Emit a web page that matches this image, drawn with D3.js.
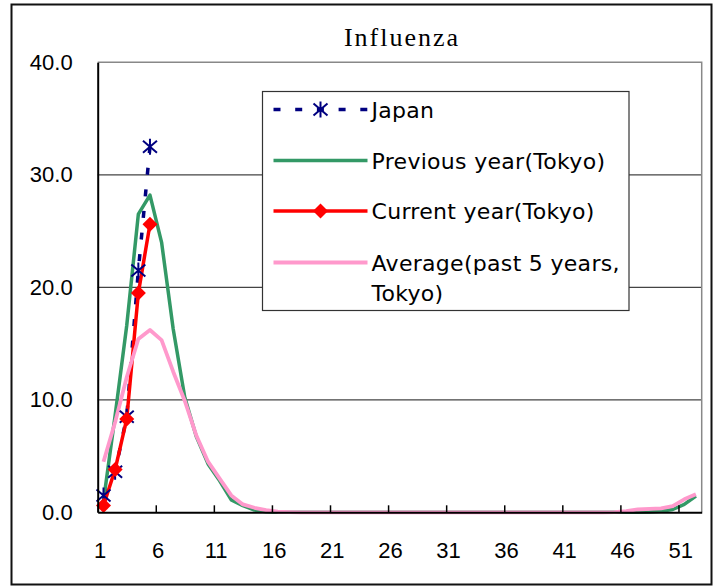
<!DOCTYPE html>
<html>
<head>
<meta charset="utf-8">
<script src="https://cdn.jsdelivr.net/npm/d3@7/dist/d3.min.js"></script>
<style>
    body { margin: 0; background: #fff; }
    .tick text { fill: #000; }
</style>
</head>
<body>
<div id="chart"></div>
<script>
// weekly reports per sentinel, influenza
var weeks = d3.range(1, 53);
var xTickLabels = [1, 6, 11, 16, 21, 26, 31, 36, 41, 46, 51];
var yTicks = [0, 10, 20, 30, 40];

var japan = [1.5, 3.6, 8.5, 21.5, 32.5];
var currentYear = [0.6, 3.8, 8.3, 19.5, 25.6];
var previousYear = [
    1.0, 8.6, 16.6, 26.5, 28.2, 24.0, 16.3, 10.2, 6.7, 4.3,
    2.8, 1.1, 0.6, 0.2, 0.05, 0, 0, 0, 0, 0,
    0, 0, 0, 0, 0, 0, 0, 0, 0, 0,
    0, 0, 0, 0, 0, 0, 0, 0, 0, 0,
    0, 0, 0, 0, 0, 0, 0, 0.02, 0.1, 0.25,
    0.7, 1.45
];
var average5y = [
    4.5, 8.0, 12.0, 15.4, 16.2, 15.3, 12.5, 9.9, 6.8, 4.5,
    3.0, 1.5, 0.7, 0.4, 0.2, 0.05, 0.02, 0, 0, 0,
    0, 0, 0, 0, 0, 0, 0, 0, 0, 0,
    0, 0, 0, 0, 0, 0, 0, 0, 0, 0,
    0, 0, 0, 0, 0.02, 0.1, 0.25, 0.3, 0.35, 0.55,
    1.15, 1.6
];

var seriesNames = ["Japan", "Previous year(Tokyo)", "Current year(Tokyo)", "Average(past 5 years,|Tokyo)"];

var svg = d3.select("#chart").append("svg").attr("width", 721).attr("height", 586),
    margin = {top: 62.3, right: 19.3, bottom: 73.7, left: 97.7},
    width = +svg.attr("width") - margin.left - margin.right,
    height = +svg.attr("height") - margin.top - margin.bottom;

var x = d3.scaleLinear().domain([0.5, weeks.length + 0.5]).range([0, width]),
    y = d3.scaleLinear().domain([0, 40]).range([height, 0]);

// chart area border
svg.append("rect")
    .attr("x", 11.5).attr("y", 4.5)
    .attr("width", 700).attr("height", 580)
    .attr("fill", "#fff")
    .attr("stroke", "#111")
    .attr("stroke-width", 2);

svg.append("text")
    .attr("x", 402).attr("y", 46)
    .attr("text-anchor", "middle")
    .style("font-family", "'Liberation Serif', serif")
    .style("font-size", "26px")
    .style("letter-spacing", "2px")
    .text("Influenza");

var plot = svg.append("g")
    .attr("transform", "translate(" + margin.left + "," + margin.top + ")");

// gridlines
plot.append("g")
    .selectAll("line")
    .data(yTicks.slice(1, -1))
    .enter().append("line")
    .attr("x1", 0).attr("x2", width)
    .attr("y1", function(d) { return y(d); })
    .attr("y2", function(d) { return y(d); })
    .attr("stroke", "#444")
    .attr("stroke-width", 1.3);

// plot area border (top / right)
plot.append("path")
    .attr("d", "M0," + y(40) + "H" + width + "V" + height)
    .attr("fill", "none")
    .attr("stroke", "#888")
    .attr("stroke-width", 1.5);

var line = d3.line()
    .x(function(d, i) { return x(weeks[i]); })
    .y(function(d) { return y(d); });

plot.append("path").datum(japan)
    .attr("d", line)
    .attr("fill", "none")
    .attr("stroke", "#000080")
    .attr("stroke-width", 3.5)
    .attr("stroke-dasharray", "7,14.7");

plot.append("path").datum(previousYear)
    .attr("d", line)
    .attr("fill", "none")
    .attr("stroke", "#339966")
    .attr("stroke-width", 3.5)
    .attr("stroke-linejoin", "round");

plot.append("path").datum(currentYear)
    .attr("d", line)
    .attr("fill", "none")
    .attr("stroke", "#ff0000")
    .attr("stroke-width", 3.5)
    .attr("stroke-linejoin", "round");

plot.append("path").datum(average5y)
    .attr("d", line)
    .attr("fill", "none")
    .attr("stroke", "#ff99cc")
    .attr("stroke-width", 3.8)
    .attr("stroke-linejoin", "round");

var starPath = "M0,-8V8M-7,-6L7,6M-7,6L7,-6",
    diamondPath = "M0,-7.5L7.5,0L0,7.5L-7.5,0Z";

plot.append("g")
    .selectAll("path")
    .data(japan)
    .enter().append("path")
    .attr("transform", function(d, i) { return "translate(" + x(weeks[i]) + "," + y(d) + ")"; })
    .attr("d", starPath)
    .attr("fill", "none")
    .attr("stroke", "#000080")
    .attr("stroke-width", 2);

plot.append("g")
    .selectAll("path")
    .data(currentYear)
    .enter().append("path")
    .attr("transform", function(d, i) { return "translate(" + x(weeks[i]) + "," + y(d) + ")"; })
    .attr("d", diamondPath)
    .attr("fill", "#ff0000");

// x axis: ticks on category boundaries, labels on categories
var xAxisTicks = d3.axisBottom(x)
    .tickValues(xTickLabels.map(function(d) { return d - 0.5; }))
    .tickSizeInner(-7)
    .tickSizeOuter(0)
    .tickFormat("");

plot.append("g")
    .attr("transform", "translate(0," + height + ")")
    .call(xAxisTicks)
    .call(function(g) {
        g.select(".domain").attr("stroke", "#000").attr("stroke-width", 2);
        g.selectAll(".tick line").attr("stroke", "#000").attr("stroke-width", 1.5);
    });

var xAxisLabels = d3.axisBottom(x)
    .tickValues(xTickLabels)
    .tickSize(0)
    .tickPadding(30);

plot.append("g")
    .attr("transform", "translate(0," + height + ")")
    .call(xAxisLabels)
    .call(function(g) {
        g.select(".domain").remove();
        g.selectAll("text")
            .attr("dx", -4)
            .style("font-family", "'Liberation Sans', Arial, sans-serif")
            .style("font-size", "22px");
    });

var yAxis = d3.axisLeft(y)
    .tickValues(yTicks)
    .tickSize(0)
    .tickPadding(25)
    .tickFormat(d3.format(".1f"));

plot.append("g")
    .call(yAxis)
    .call(function(g) {
        g.select(".domain").attr("stroke", "#000").attr("stroke-width", 2);
        g.selectAll("text")
            .style("font-family", "'Liberation Sans', Arial, sans-serif")
            .style("font-size", "22px");
    });

// legend
var legend = svg.append("g").attr("transform", "translate(262.5,91.5)");

legend.append("rect")
    .attr("width", 366.5).attr("height", 219)
    .attr("fill", "#fff")
    .attr("stroke", "#333")
    .attr("stroke-width", 1.2);

var legendStyles = [
    {color: "#000080", dash: "7,14.7", width: 3.5, marker: "star"},
    {color: "#339966", dash: null, width: 3.5, marker: null},
    {color: "#ff0000", dash: null, width: 3.5, marker: "diamond"},
    {color: "#ff99cc", dash: null, width: 3.8, marker: null}
];
var rowY = [18, 69, 119.5, 171];

seriesNames.forEach(function(name, i) {
    var st = legendStyles[i];
    var row = legend.append("g").attr("transform", "translate(0," + rowY[i] + ")");
    row.append("line")
        .attr("x1", 11).attr("x2", 105)
        .attr("stroke", st.color)
        .attr("stroke-width", st.width)
        .attr("stroke-dasharray", st.dash);
    if (st.marker == "star") {
        row.append("path").attr("transform", "translate(58,0)")
            .attr("d", starPath).attr("fill", "none")
            .attr("stroke", st.color).attr("stroke-width", 2);
    } else if (st.marker == "diamond") {
        row.append("path").attr("transform", "translate(58,0)")
            .attr("d", diamondPath).attr("fill", st.color);
    }
    var t = row.append("text")
        .attr("x", 109)
        .attr("y", 8)
        .style("font-family", "'DejaVu Sans', sans-serif")
        .style("font-size", "22px")
        .style("letter-spacing", "0.3px");
    name.split("|").forEach(function(part, j) {
        t.append("tspan").attr("x", 109).attr("dy", j == 0 ? 0 : 30.6).text(part);
    });
});
</script>
</body>
</html>
